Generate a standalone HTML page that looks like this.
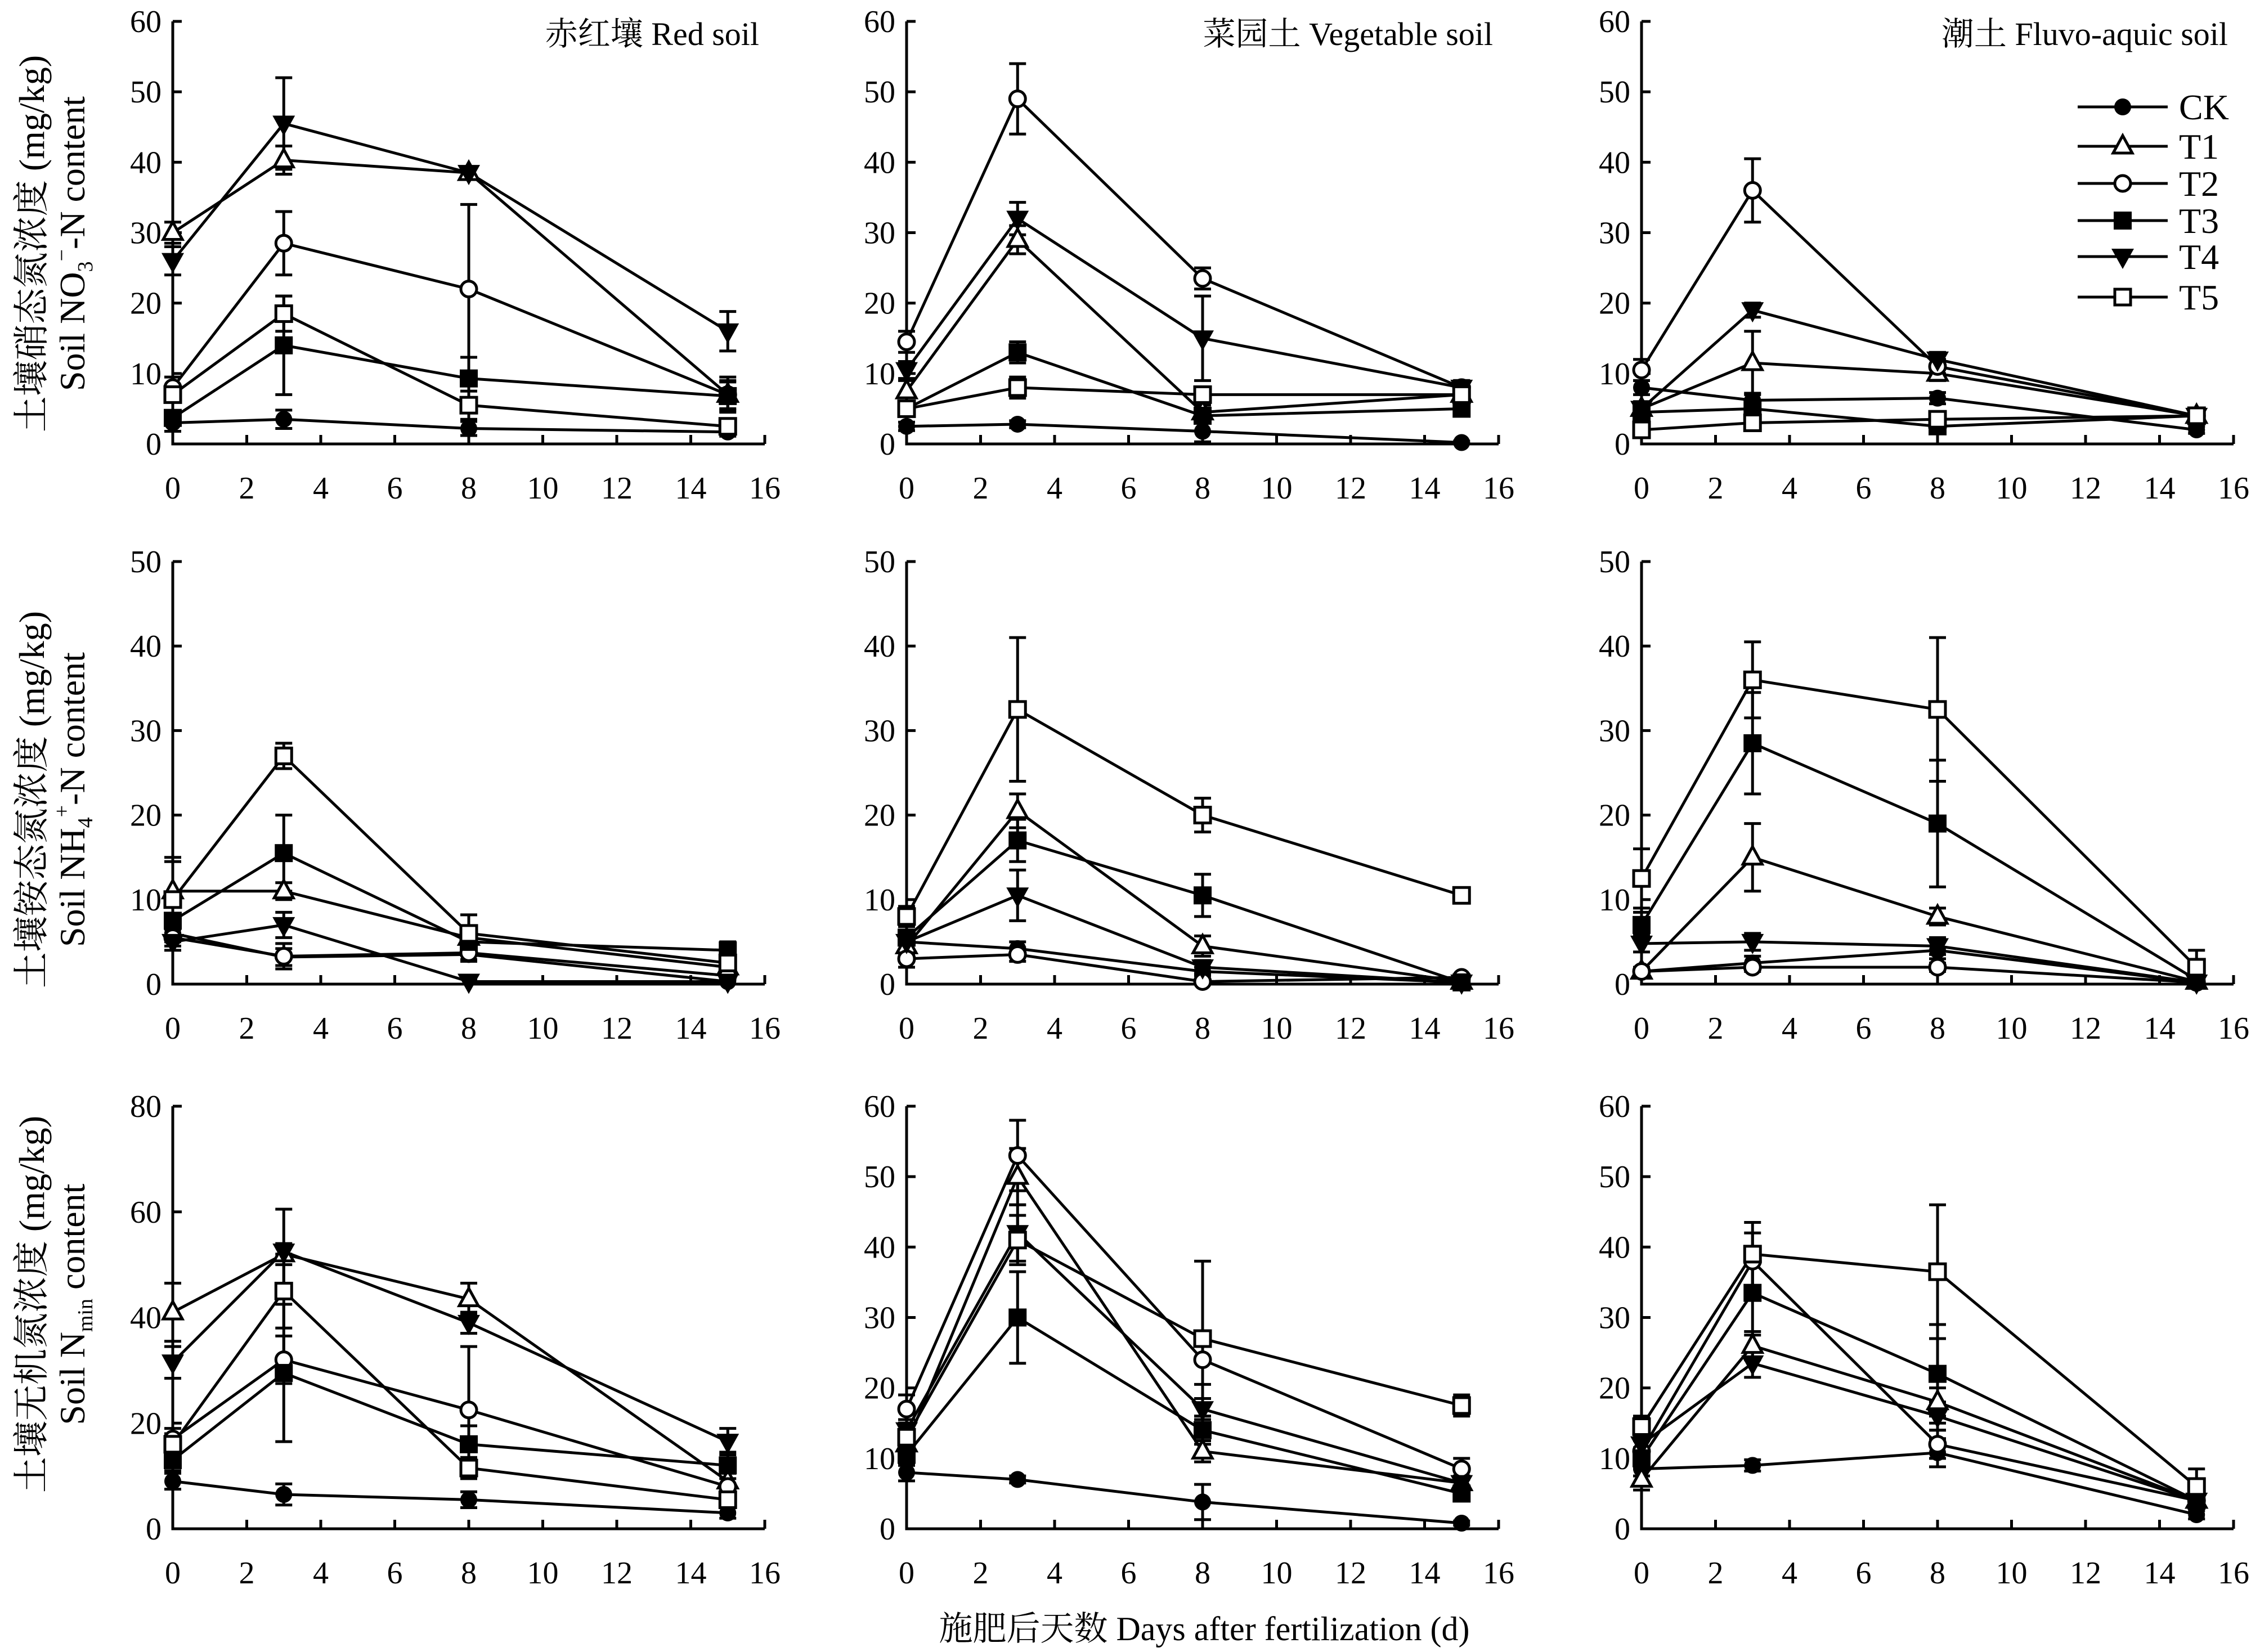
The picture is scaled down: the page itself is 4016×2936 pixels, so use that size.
<!DOCTYPE html>
<html><head><meta charset="utf-8"><style>
html,body{margin:0;padding:0;background:#fff;}
svg{display:block;}
text{font-family:"Liberation Serif","Noto Serif CJK SC","Noto Sans CJK SC",serif;fill:#000;}
</style></head>
<body>
<svg id="fig" xmlns="http://www.w3.org/2000/svg" width="4016" height="2936" viewBox="0 0 4016 2936">
<rect width="4016" height="2936" fill="#fff"/>
</svg>
<script>
const days = [0, 3, 8, 15];
const seriesNames = ["CK", "T1", "T2", "T3", "T4", "T5"];
const xTicks = [0, 2, 4, 6, 8, 10, 12, 14, 16];
const panelTitles = ["赤红壤 Red soil", "菜园土 Vegetable soil", "潮土 Fluvo-aquic soil"];
const yMaxRow = [[60,60,60],[50,50,50],[80,60,60]];
const yStepRow = [[10,10,10],[10,10,10],[20,10,10]];

// Row 1: NO3-N
const no3Red = [[3,3.5,2.2,1.7],[30,40.3,38.5,7],[8,28.5,22,7],[3.7,14,9.3,6.8],[26,45.5,38.5,16],[7,18.5,5.5,2.5]];
const no3RedErr = [[1.2,1.3,1,0.6],[1.5,2,0.8,2],[1.5,4.5,12,2.5],[1,7,3,2],[2,6.5,0.8,2.8],[1,2.5,2,1]];
const no3Veg = [[2.5,2.8,1.8,0.2],[7.5,29,4.5,7],[14.5,49,23.5,8],[5,13,4,5],[10.5,32,15,8],[5,8,7,7]];
const no3VegErr = [[0.6,0.5,1.5,0.2],[1.5,2,1,1],[1.5,5,1.5,1],[1,1.5,0.8,1],[1.2,2.3,6,1],[1,1.5,1,1]];
const no3Fluvo = [[8,6.2,6.5,2],[5,11.5,10,4],[10.5,36,11,4],[4.5,5,2.5,4],[5,19,12,4],[2,3,3.5,4]];
const no3FluvoErr = [[1,1,0.8,0.5],[1,4.5,1,0.6],[1.5,4.5,1,0.6],[1,1,1,0.6],[1,1,1,0.6],[0.6,0.8,0.8,0.6]];
// Row 2: NH4-N
const nh4Red = [[6,3.2,3.5,0.3],[11,11,5.5,2],[5.5,3.3,3.7,1],[7.5,15.5,5,4],[5,7,0.3,0.3],[10,27,6,2.5]];
const nh4RedErr = [[1,1,0.8,0.3],[4,1,1,0.8],[1,1.5,0.8,0.5],[2,4.5,1.5,1],[1,1.5,0.3,0.3],[4.5,1.5,2.2,1]];
const nh4Veg = [[5,4.2,1.5,0.2],[4.5,20.5,4.5,0.3],[3,3.5,0.3,0.8],[5.5,17,10.5,0.2],[5,10.5,2,0.2],[8,32.5,20,10.5]];
const nh4VegErr = [[1,0.8,0.5,0.2],[1,2,1.2,0.3],[1,0.8,0.3,0.3],[1.5,2.5,2.5,0.2],[1,3,0.8,0.2],[1.2,8.5,2,0.6]];
const nh4Fluvo = [[1.5,2.5,4,0.2],[1.5,15,8,0.3],[1.5,2,2,0.2],[7,28.5,19,0.5],[4.8,5,4.5,0.2],[12.5,36,32.5,2]];
const nh4FluvoErr = [[0.5,0.8,1,0.2],[0.5,4,1,0.3],[0.5,0.5,0.5,0.2],[1.5,6,7.5,0.5],[1,1,1,0.2],[3.5,4.5,8.5,2]];
// Row 3: Nmin
const nminRed = [[9,6.5,5.5,3],[41,52,43.5,9],[17,32,22.5,8],[13,29.5,16,12],[31.5,52.5,39,16.5],[16,45,11.5,5.5]];
const nminRedErr = [[1.5,2,1.5,1],[5.5,2,3,2],[2,4.5,12,2.5],[2,13,3.5,2.5],[3,8,2,2.5],[2,7,2,1.5]];
const nminVeg = [[8,7,3.8,0.8],[12,50,11,6.5],[17,53,24,8.5],[10.5,30,14,5],[14,42,17,6.5],[13,41,27,17.5]];
const nminVegErr = [[1.2,0.5,2.5,0.3],[2,4,1.5,1],[2,5,3.5,1.5],[1.5,6.5,2,1],[1.5,4,1.5,1],[2,3.5,11,1.5]];
const nminFluvo = [[8.5,9,10.8,2],[7,26,18,4],[11,38,12,4],[10,33.5,22,4],[12,23.5,16,4],[14.5,39,36.5,6]];
const nminFluvoErr = [[1,0.8,2,0.6],[1.5,2,2,1],[1.5,4,2,1],[1.5,6,7,1],[1.5,2,2,1],[1.5,4.5,9.5,2.5]];

const panelData = [[no3Red,no3Veg,no3Fluvo],[nh4Red,nh4Veg,nh4Fluvo],[nminRed,nminVeg,nminFluvo]];
const panelErr = [[no3RedErr,no3VegErr,no3FluvoErr],[nh4RedErr,nh4VegErr,nh4FluvoErr],[nminRedErr,nminVegErr,nminFluvoErr]];

const NS = "http://www.w3.org/2000/svg";
const svg = document.getElementById("fig");
const colX0 = [307, 1611, 2917];
const PW = 1052;
const rowY0 = [789, 1749, 2717];
const PH = 751;
const SW = 5;

function mk(tag, attrs, parent) {
  const e = document.createElementNS(NS, tag);
  for (const k in attrs) e.setAttribute(k, attrs[k]);
  (parent || svg).appendChild(e);
  return e;
}

function marker(g, kind, cx, cy) {
  let m;
  if (kind === 0) m = mk("circle", {cx: cx, cy: cy, r: 15, fill: "#000"}, g);
  else if (kind === 2) m = mk("circle", {cx: cx, cy: cy, r: 14, fill: "#fff", stroke: "#000", "stroke-width": SW}, g);
  else if (kind === 1) m = mk("polygon", {points: `${cx},${cy-19} ${cx-17},${cy+12} ${cx+17},${cy+12}`, fill: "#fff", stroke: "#000", "stroke-width": SW}, g);
  else if (kind === 3) m = mk("rect", {x: cx-16, y: cy-16, width: 32, height: 32, fill: "#000"}, g);
  else if (kind === 4) m = mk("polygon", {points: `${cx-20},${cy-14} ${cx+20},${cy-14} ${cx},${cy+22}`, fill: "#000"}, g);
  else m = mk("rect", {x: cx-14, y: cy-14, width: 28, height: 28, fill: "#fff", stroke: "#000", "stroke-width": SW}, g);
  return m;
}

for (let r = 0; r < 3; r++) {
  for (let c = 0; c < 3; c++) {
    const x0 = colX0[c], y0 = rowY0[r];
    const ymax = yMaxRow[r][c], ystep = yStepRow[r][c];
    const sx = v => x0 + v / 16 * PW;
    const sy = v => y0 - v / ymax * PH;
    const g = mk("g", {});
    
    
    const ax = mk("path", {d: `M${x0},${sy(ymax)} L${x0},${y0} L${sx(16)},${y0}`, fill: "none", stroke: "#000", "stroke-width": SW}, g);
    
    
    for (let v = 0; v <= ymax; v += ystep) {
      mk("line", {x1: x0, x2: x0 + 16, y1: sy(v), y2: sy(v), stroke: "#000", "stroke-width": SW}, g);
      const t = mk("text", {x: x0 - 20, y: sy(v) + 19, "text-anchor": "end", "font-size": 56}, g);
      t.textContent = v;
      
      
    }
    xTicks.forEach(v => {
      mk("line", {x1: sx(v), x2: sx(v), y1: y0, y2: y0 - 16, stroke: "#000", "stroke-width": SW}, g);
      const t = mk("text", {x: sx(v), y: y0 + 97, "text-anchor": "middle", "font-size": 56}, g);
      t.textContent = v;
      
      
    });
    if (r === 0) {
      const tt = mk("text", {x: sx(16) - 10, y: 80, "text-anchor": "end", "font-size": 58}, g);
      tt.textContent = panelTitles[c];
      
      
    }
    const data = panelData[r][c], err = panelErr[r][c];
    data.forEach((s, si) => {
      s.forEach((v, i) => {
        const e = err[si][i];
        const x = sx(days[i]);
        const eb = mk("path", {d: `M${x},${sy(v-e)} L${x},${sy(v+e)} M${x-15},${sy(v+e)} L${x+15},${sy(v+e)} M${x-15},${sy(v-e)} L${x+15},${sy(v-e)}`, fill: "none", stroke: "#000", "stroke-width": SW}, g);
        
        
      });
    });
    data.forEach((s, si) => {
      const pts = s.map((v, i) => `${sx(days[i])},${sy(v)}`).join(" ");
      const pl = mk("polyline", {points: pts, fill: "none", stroke: "#000", "stroke-width": SW}, g);
      
      
    });
    data.forEach((s, si) => {
      s.forEach((v, i) => {
        const m = marker(g, si, sx(days[i]), sy(v));
        
        
      });
    });
  }
}

const lg = mk("g", {});


const legY = [190, 260, 326, 392, 456, 528];
seriesNames.forEach((n, i) => {
  const y = legY[i];
  const ent = mk("g", {}, lg);
  
  
  mk("line", {x1: 3692, x2: 3852, y1: y, y2: y, stroke: "#000", "stroke-width": SW}, ent);
  marker(ent, i, 3772, y);
  const t = mk("text", {x: 3872, y: y + 22, "font-size": 64}, ent);
  t.textContent = n;
});

const yTitles = [
  ["土壤硝态氮浓度 (mg/kg)", "Soil NO", "3", "−", "-N content"],
  ["土壤铵态氮浓度 (mg/kg)", "Soil NH", "4", "+", "-N content"],
  ["土壤无机氮浓度 (mg/kg)", "Soil N", "min", "", " content"]
];
const rowCenters = [433, 1421, 2318];
yTitles.forEach((tt, r) => {
  const cy = rowCenters[r];
  const g = mk("g", {transform: `translate(0,${cy}) rotate(-90)`});
  
  
  const t1 = mk("text", {x: 0, y: 78, "text-anchor": "middle", "font-size": 64}, g);
  t1.textContent = tt[0];
  const t2 = mk("text", {x: 0, y: 150, "text-anchor": "middle", "font-size": 64}, g);
  const a = mk("tspan", {}, t2); a.textContent = tt[1];
  const b = mk("tspan", {dy: 14, "font-size": 38}, t2); b.textContent = tt[2];
  if (tt[3]) { const c2 = mk("tspan", {dy: -42, "font-size": 38}, t2); c2.textContent = tt[3]; const d = mk("tspan", {dy: 28}, t2); d.textContent = tt[4]; }
  else { const d = mk("tspan", {dy: -14}, t2); d.textContent = tt[4]; }
});

const xt = mk("text", {x: 2140, y: 2915, "text-anchor": "middle", "font-size": 60});
xt.textContent = "施肥后天数 Days after fertilization (d)";


</script>
</body></html>
